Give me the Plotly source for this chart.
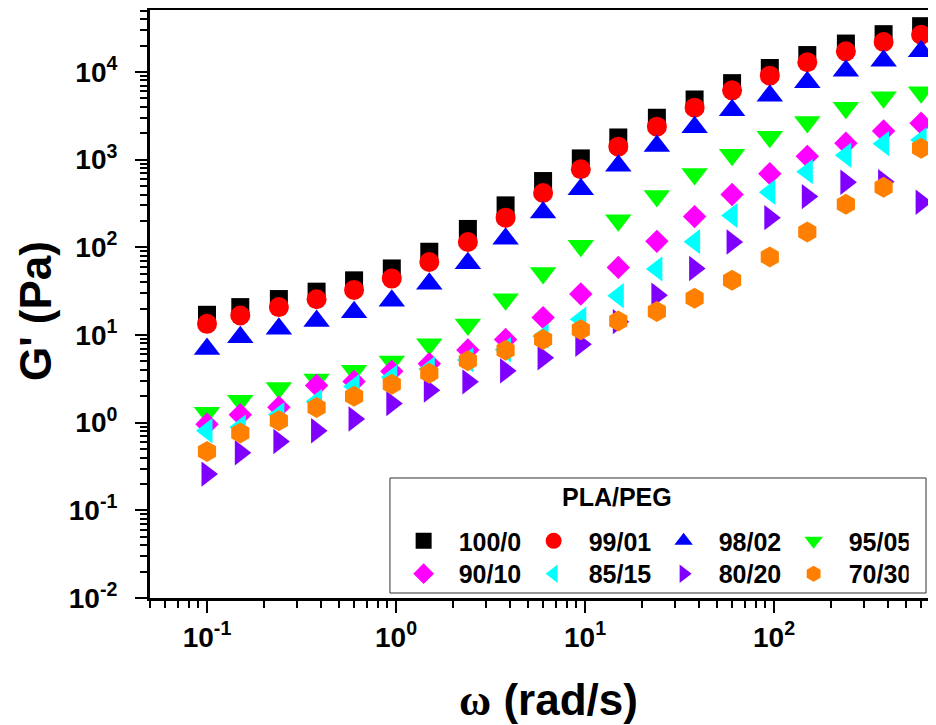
import plotly.graph_objects as go

# ---- data ----
omega = [0.1, 0.15, 0.24, 0.38, 0.6, 0.95, 1.5, 2.4, 3.8, 6.0,
         9.5, 15, 24, 38, 60, 95, 150, 240, 380, 600]

names = ["100/0", "99/01", "98/02", "95/05", "90/10", "85/15", "80/20", "70/30"]

g_100_0 = [17, 20.8, 25.7, 31.2, 42, 57.4, 89, 162, 301, 570,
           1033, 1790, 3006, 4856, 7460, 11100, 15600, 21100, 27000, 33300]
g_99_01 = [13.4, 16.7, 20.8, 25.6, 32.7, 44, 68, 115, 218, 417,
           778, 1406, 2377, 3915, 6180, 9080, 12900, 17200, 22000, 26600]
g_98_02 = [6.9, 9.4, 11.8, 14.4, 18.2, 24.6, 38.3, 66, 125, 249,
           461, 851, 1432, 2339, 3656, 5370, 7630, 10350, 13450, 17200]
g_95_05 = [1.3, 1.78, 2.48, 3.1, 3.9, 5.0, 7.85, 13.2, 25.5, 51,
           104, 203, 384, 687, 1140, 1820, 2690, 3915, 5140, 5860]
g_90_10 = [0.96, 1.23, 1.5, 2.65, 2.95, 3.85, 4.7, 6.75, 8.9, 15.8,
           29.4, 59, 117, 224, 400, 692, 1090, 1540, 2120, 2600]
g_85_15 = [0.81, 0.89, 1.23, 1.74, 2.58, 3.3, 4.1, 5.2, 6.8, 9.7,
           15.1, 28, 56.7, 116, 230, 425, 730, 1124, 1523, 1680]
g_80_20 = [0.259, 0.453, 0.61, 0.81, 1.10, 1.65, 2.35, 2.92, 3.9, 5.5,
           7.85, 14.2, 28.4, 57.3, 115, 218, 379, 552, 560, 327]
g_70_30 = [0.47, 0.76, 1.05, 1.49, 2.0, 2.75, 3.66, 5.07, 6.7, 8.9,
           11.5, 14.4, 18.5, 26.3, 42.2, 77.8, 150, 310, 485, 1350]

series = [g_100_0, g_99_01, g_98_02, g_95_05, g_90_10, g_85_15, g_80_20, g_70_30]
colors = ["#000000", "#FF0000", "#0000FF", "#00FF00", "#FF00FF", "#00FFFF", "#8000FF", "#FF8000"]
symbols = ["square", "circle", "triangle-up", "triangle-down", "diamond",
           "triangle-left", "triangle-right", "hexagon"]
sizes = [18, 20, 23, 23, 18, 22, 22, 21]

x_tickvals = [0.1, 1, 10, 100]
x_ticktext = ["10<sup>-1</sup>", "10<sup>0</sup>", "10<sup>1</sup>", "10<sup>2</sup>"]
y_tickvals = [0.01, 0.1, 1, 10, 100, 1000, 10000]
y_ticktext = ["10<sup>-2</sup>", "10<sup>-1</sup>", "10<sup>0</sup>", "10<sup>1</sup>",
              "10<sup>2</sup>", "10<sup>3</sup>", "10<sup>4</sup>"]

FONT = "Liberation Sans, Arial, sans-serif"

fig = go.Figure()
for i, (nm, ys) in enumerate(zip(names, series)):
    fig.add_trace(go.Scatter(
        x=omega, y=ys, mode="markers", name=nm,
        marker=dict(symbol=symbols[i], color=colors[i], size=sizes[i], line=dict(width=0)),
        legend="legend" if i < 4 else "legend2",
        cliponaxis=False,
    ))

axis_common = dict(
    type="log", showgrid=False, zeroline=False,
    showline=True, linecolor="black", linewidth=3,
    ticks="outside", ticklen=12, tickwidth=2, tickcolor="black",
    tickfont=dict(family=FONT, size=28, color="black", weight="bold"),
    minor=dict(ticks="outside", ticklen=7, tickwidth=2, tickcolor="black",
               dtick="D1", showgrid=False),
    automargin=False,
)

fig.update_xaxes(**axis_common, range=[-1.3016, 2.857], mirror=True,
                 tickmode="array", tickvals=x_tickvals, ticktext=x_ticktext,
                 ticklabelstandoff=0)
fig.update_yaxes(**axis_common, range=[-2, 4.707], mirror=False,
                 tickmode="array", tickvals=y_tickvals, ticktext=y_ticktext,
                 ticklabelstandoff=12)

leg_common = dict(
    orientation="h", xanchor="left", yanchor="top",
    font=dict(family=FONT, size=25, color="black", weight="bold"),
    itemwidth=60, entrywidth=55, entrywidthmode="pixels",
    bgcolor="rgba(0,0,0,0)", borderwidth=0, tracegroupgap=0,
)

# The page body has an 8px default margin, so the figure is sized 8px smaller
# and the plot area is placed so that it lands at the reference position.
fig.update_layout(
    width=928, height=717,
    margin=dict(l=142, r=0, t=2, b=127),
    paper_bgcolor="white", plot_bgcolor="white",
    font=dict(family=FONT, color="black"),
    showlegend=True,
    legend=dict(**leg_common, x=0.3036, y=0.136),
    legend2=dict(**leg_common, x=0.3036, y=0.080),
    shapes=[dict(type="rect", xref="paper", yref="paper",
                 x0=0.3053, x1=0.9873, y0=0.0085, y1=0.2041,
                 line=dict(color="#333333", width=1), fillcolor="rgba(0,0,0,0)")],
    annotations=[
        dict(text="<b>PLA/PEG</b>", xref="paper", yref="paper", x=0.594, y=0.1718,
             xanchor="center", yanchor="middle", showarrow=False,
             font=dict(family=FONT, size=25, color="black")),
        dict(text="<b>G' (Pa)</b>", xref="paper", yref="paper", x=-0.1463, y=0.488,
             xanchor="center", yanchor="middle", textangle=-90, showarrow=False,
             font=dict(family=FONT, size=44, color="black")),
        dict(text="<span style='font-family:Liberation Serif'><b>ω</b></span><b> (rad/s)</b>",
             xref="paper", yref="paper", x=0.5076, y=-0.1735,
             xanchor="center", yanchor="middle", showarrow=False,
             font=dict(family=FONT, size=44, color="black")),
    ],
)

fig.write_html("out.html")
